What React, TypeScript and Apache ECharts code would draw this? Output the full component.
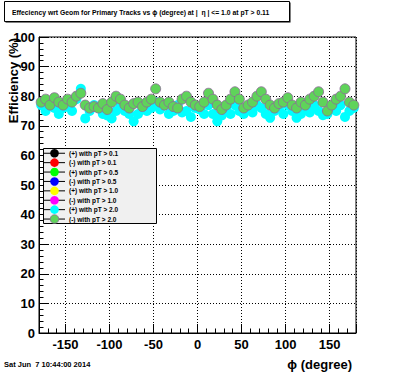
import React, { useEffect, useRef } from "react";
import * as echarts from "echarts";

const phiBins = [
  -177.5, -172.5, -167.5, -162.5, -157.5, -152.5, -147.5, -142.5, -137.5, -132.5,
  -127.5, -122.5, -117.5, -112.5, -107.5, -102.5, -97.5, -92.5, -87.5, -82.5,
  -77.5, -72.5, -67.5, -62.5, -57.5, -52.5, -47.5, -42.5, -37.5, -32.5,
  -27.5, -22.5, -17.5, -12.5, -7.5, -2.5, 2.5, 7.5, 12.5, 17.5,
  22.5, 27.5, 32.5, 37.5, 42.5, 47.5, 52.5, 57.5, 62.5, 67.5,
  72.5, 77.5, 82.5, 87.5, 92.5, 97.5, 102.5, 107.5, 112.5, 117.5,
  122.5, 127.5, 132.5, 137.5, 142.5, 147.5, 152.5, 157.5, 162.5, 167.5,
  172.5, 177.5,
];

// (+) with pT > 2.0  (cyan)
const effPlusPt20 = [
  77, 75, 78, 76, 74, 76, 77, 75, 79, 82.5,
  72.5, 75, 77, 76, 74, 73.5, 72.5, 75, 77, 75,
  74, 71.5, 74, 76, 75, 76, 78, 75.5, 77, 74,
  75, 77, 74.5, 75, 73, 76, 75.5, 74, 77, 74,
  71.5, 73.5, 76, 74, 77, 75, 74, 76, 74.5, 77,
  76, 74, 72.7, 75, 76, 74, 77, 75, 72.7, 74,
  76, 74.5, 77, 75, 73.6, 74, 76, 75, 77, 73,
  75, 76,
];

// (-) with pT > 2.0  (light green)
const effMinusPt20 = [
  78, 79, 77, 79.5, 78, 77, 79, 78, 80, 81,
  77, 76, 76.5, 76, 77.5, 75.5, 78, 80, 79, 77,
  76, 77.5, 78, 76.5, 78, 79, 82.5, 78, 77, 78,
  76.5, 76, 79, 80, 78, 77, 76.5, 78, 81, 79,
  77, 75.5, 77, 79, 81.5, 79, 76, 77, 78, 80,
  81.5, 79, 77, 76, 77.5, 78, 79.5, 77, 76, 78,
  77, 79, 80, 81.5, 78, 75, 77, 79, 80, 82.5,
  78, 77,
];

const seriesNames = [
  "(+) with pT > 0.1",
  "(-) with pT > 0.1",
  "(+) with pT > 0.5",
  "(-) with pT > 0.5",
  "(+) with pT > 1.0",
  "(-) with pT > 1.0",
  "(+) with pT > 2.0",
  "(-) with pT > 2.0",
];
const seriesColors = [
  "#000000", "#ff0000", "#00ff00", "#0000ff",
  "#ffff00", "#ff00ff", "#00ffff", "#5fd35a",
];
const seriesValues: (number[] | null)[] = [null, null, null, null, null, null, effPlusPt20, effMinusPt20];

const yTicks = [0, 10, 20, 30, 40, 50, 60, 70, 80, 90, 100];
const titleText = "Effeciency wrt Geom for Primary Tracks vs \u03d5 (degree) at |  \u03b7 | <= 1.0 at pT > 0.11";
const dateText = "Sat Jun  7 10:44:00 2014";
const xName = "\u03d5 (degree)";
const yName = "Efficiency (%)";

const FONT = "'Liberation Sans', Arial, Helvetica, sans-serif";

export default function App() {
  const ref = useRef<HTMLDivElement>(null);
  useEffect(() => {
    if (!ref.current) return;
    const chart = echarts.init(ref.current, undefined, { renderer: "svg" });

    const legendTop = 149;
    const rowStep = 9.4;
    const rowY = (i: number) => legendTop + 4.25 + i * rowStep;

    const series: any[] = seriesNames.map((name, i) => ({
      name,
      type: "scatter",
      symbol: "circle",
      symbolSize: 10,
      xAxisIndex: 0,
      yAxisIndex: 0,
      itemStyle: {
        color: seriesColors[i],
        opacity: 1,
        borderColor: i === 7 ? "rgba(140,110,150,0.85)" : seriesColors[i],
        borderWidth: i === 7 ? 1 : 0,
      },
      data: seriesValues[i] ? phiBins.map((p, k) => [p, (seriesValues[i] as number[])[k]]) : [],
      z: 2 + i * 0.01,
    }));

    const legendItems: any[] = [];
    seriesNames.forEach((name, i) => {
      legendItems.push({
        type: "line",
        z: 5,
        shape: { x1: 44, y1: rowY(i), x2: 65, y2: rowY(i) },
        style: { stroke: "#000", lineWidth: 1 },
      });
      legendItems.push({
        type: "circle",
        z: 6,
        shape: { cx: 54.5, cy: rowY(i), r: 4.3 },
        style: {
          fill: seriesColors[i],
          stroke: i === 7 ? "rgba(140,110,150,0.85)" : seriesColors[i],
          lineWidth: i === 7 ? 1 : 0,
        },
      });
      legendItems.push({
        type: "text",
        z: 6,
        x: 69,
        y: rowY(i),
        style: {
          text: name,
          fontSize: 6.5,
          fontWeight: "bold",
          fontFamily: FONT,
          fill: "#000",
          align: "left",
          verticalAlign: "middle",
        },
      });
    });

    chart.setOption({
      animation: false,
      backgroundColor: "#ffffff",
      grid: {
        left: 39,
        right: 40,
        top: 37,
        bottom: 39,
        show: true,
        borderColor: "#000",
        borderWidth: 1,
        backgroundColor: "transparent",
      },
      xAxis: [
        {
          type: "value",
          min: -180,
          max: 180,
          splitNumber: 7,
          position: "bottom",
          axisLine: { show: true, onZero: false, lineStyle: { color: "#000", width: 1 } },
          axisTick: { show: true, inside: true, length: 9, lineStyle: { color: "#000" } },
          axisLabel: {
            show: true,
            margin: 5,
            fontSize: 13,
            fontWeight: "bold",
            fontFamily: FONT,
            color: "#000",
            formatter: (v: number) => (Math.abs(v) === 180 ? "" : String(v)),
          },
          splitLine: { show: true, lineStyle: { color: "#000", type: [1, 2], width: 1 } },
        },
        {
          type: "value",
          min: -180,
          max: 180,
          interval: 10,
          position: "bottom",
          axisLine: { show: false, onZero: false },
          axisTick: { show: true, inside: true, length: 4.5, lineStyle: { color: "#000" } },
          axisLabel: { show: false },
          splitLine: { show: false },
        },
      ],
      yAxis: {
        type: "value",
        min: yTicks[0],
        max: yTicks[yTicks.length - 1],
        interval: 10,
        axisLine: { show: true, onZero: false, lineStyle: { color: "#000", width: 1 } },
        axisTick: { show: true, inside: true, length: 9, lineStyle: { color: "#000" } },
        minorTick: { show: true, splitNumber: 5, length: 4.5, lineStyle: { color: "#000" } },
        axisLabel: {
          margin: 4,
          fontSize: 13,
          fontWeight: "bold",
          fontFamily: FONT,
          color: "#000",
        },
        splitLine: { show: true, lineStyle: { color: "#000", type: [1, 2], width: 1 } },
      },
      graphic: [
        // title box
        {
          type: "rect",
          z: 5,
          shape: { x: 5.5, y: 2.5, width: 285, height: 20 },
          style: { fill: "#000" },
        },
        {
          type: "rect",
          z: 5,
          shape: { x: 4.5, y: 1.5, width: 285, height: 20 },
          style: { fill: "#fff", stroke: "#000", lineWidth: 1 },
        },
        {
          type: "text",
          z: 6,
          x: 12,
          y: 12,
          style: {
            text: titleText,
            fontSize: 6.8,
            fontWeight: "bold",
            fontFamily: FONT,
            fill: "#000",
            verticalAlign: "middle",
            align: "left",
          },
        },
        // legend box
        {
          type: "rect",
          z: 4,
          shape: { x: 43.5, y: 148.5, width: 113, height: 75 },
          style: { fill: "#f0f0f0", stroke: "#000", lineWidth: 1 },
        },
        ...legendItems,
        // axis titles
        {
          type: "text",
          z: 6,
          x: 13,
          y: 38,
          rotation: Math.PI / 2,
          style: {
            text: yName,
            fontSize: 13,
            fontWeight: "bold",
            fontFamily: FONT,
            fill: "#000",
            align: "right",
            verticalAlign: "middle",
          },
        },
        {
          type: "text",
          z: 6,
          x: 352,
          y: 364,
          style: {
            text: xName,
            fontSize: 13,
            fontWeight: "bold",
            fontFamily: FONT,
            fill: "#000",
            align: "right",
            verticalAlign: "middle",
          },
        },
        {
          type: "text",
          z: 6,
          x: 4,
          y: 364,
          style: {
            text: dateText,
            fontSize: 7.5,
            fontWeight: "bold",
            fontFamily: FONT,
            fill: "#000",
            align: "left",
            verticalAlign: "middle",
          },
        },
      ],
      series,
    });
    return () => chart.dispose();
  }, []);

  return (
    <div
      ref={ref}
      style={{ position: "fixed", left: 0, top: 0, width: 396, height: 372, background: "#fff" }}
    />
  );
}
